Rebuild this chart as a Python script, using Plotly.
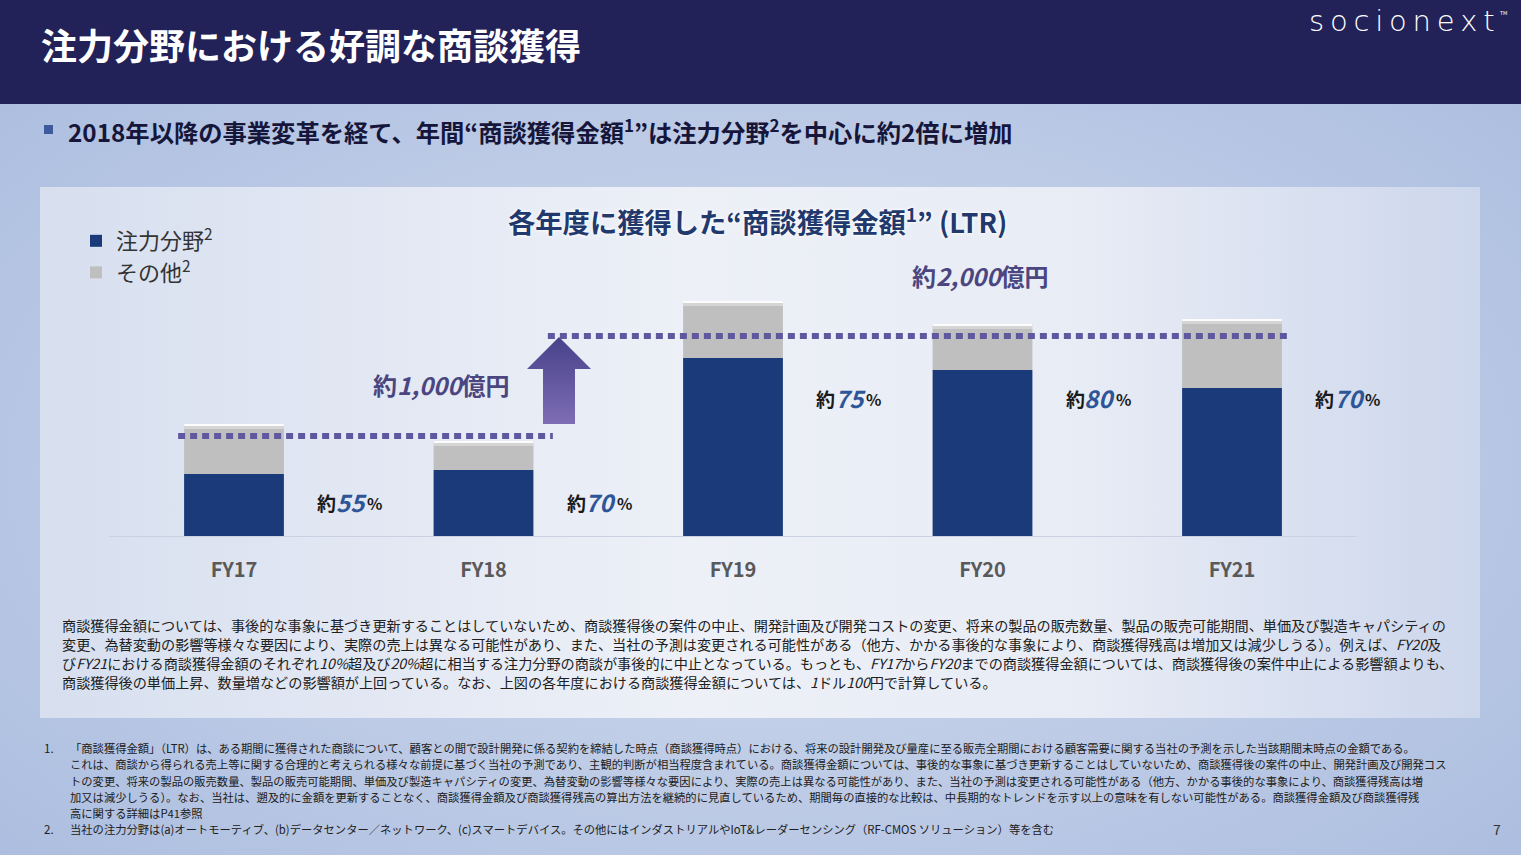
import base64
import plotly.graph_objects as go

W, H = 1521, 855

# ---------------- data ----------------
CATEGORIES = ["FY17", "FY18", "FY19", "FY20", "FY21"]
FOCUS = [620, 660, 1780, 1660, 1480]      # 注力分野 (億円)
OTHER = [500, 290, 570, 460, 690]         # その他 (億円)
SHARE_LABELS = ["55", "70", "75", "80", "70"]   # 注力分野の比率 (%)
LEVELS = [1000, 2000]                     # 目安線 (億円)
LEVEL_LABELS = ["1,000", "2,000"]

TITLE = "注力分野における好調な商談獲得"
SUBTITLE = "2018年以降の事業変革を経て、年間“商談獲得金額<sup>1</sup>”は注力分野<sup>2</sup>を中心に約2倍に増加"
CHART_TITLE = "各年度に獲得した“商談獲得金額<sup>1</sup>” (LTR)"
SERIES_NAMES = ["注力分野<sup>2</sup>", "その他<sup>2</sup>"]

BODY_LINES = [
    "商談獲得金額については、事後的な事象に基づき更新することはしていないため、商談獲得後の案件の中止、開発計画及び開発コストの変更、将来の製品の販売数量、製品の販売可能期間、単価及び製造キャパシティの",
    "変更、為替変動の影響等様々な要因により、実際の売上は異なる可能性があり、また、当社の予測は変更される可能性がある（他方、かかる事後的な事象により、商談獲得残高は増加又は減少しうる）。例えば、<i>FY20</i>及",
    "び<i>FY21</i>における商談獲得金額のそれぞれ<i>10%</i>超及び<i>20%</i>超に相当する注力分野の商談が事後的に中止となっている。もっとも、<i>FY17</i>から<i>FY20</i>までの商談獲得金額については、商談獲得後の案件中止による影響額よりも、",
    "商談獲得後の単価上昇、数量増などの影響額が上回っている。なお、上図の各年度における商談獲得金額については、<i>1</i>ドル<i>100</i>円で計算している。",
]
NOTE1_LINES = [
    "「商談獲得金額」（LTR）は、ある期間に獲得された商談について、顧客との間で設計開発に係る契約を締結した時点（商談獲得時点）における、将来の設計開発及び量産に至る販売全期間における顧客需要に関する当社の予測を示した当該期間末時点の金額である。",
    "これは、商談から得られる売上等に関する合理的と考えられる様々な前提に基づく当社の予測であり、主観的判断が相当程度含まれている。商談獲得金額については、事後的な事象に基づき更新することはしていないため、商談獲得後の案件の中止、開発計画及び開発コス",
    "トの変更、将来の製品の販売数量、製品の販売可能期間、単価及び製造キャパシティの変更、為替変動の影響等様々な要因により、実際の売上は異なる可能性があり、また、当社の予測は変更される可能性がある（他方、かかる事後的な事象により、商談獲得残高は増",
    "加又は減少しうる）。なお、当社は、遡及的に金額を更新することなく、商談獲得金額及び商談獲得残高の算出方法を継続的に見直しているため、期間毎の直接的な比較は、中長期的なトレンドを示す以上の意味を有しない可能性がある。商談獲得金額及び商談獲得残",
    "高に関する詳細はP41参照",
]
NOTE2 = "当社の注力分野は(a)オートモーティブ、(b)データセンター／ネットワーク、(c)スマートデバイス。その他にはインダストリアルやIoT&レーダーセンシング（RF-CMOS ソリューション）等を含む"
PAGE_NO = "7"

# ---------------- style ----------------
JP = "Noto Sans CJK JP, Noto Sans, sans-serif"
NAVY_BAR = "#1b3a7a"
GRAY_BAR = "#bfbfbf"
DOT_COLOR = "#5f589f"
LABEL_PURPLE = "#4b4680"
PCT_BLUE = "#2d5597"


def px(x):
    return x / W


def py(y):
    return 1 - y / H


# background (gradients) as an svg image
svg = f'''<svg xmlns="http://www.w3.org/2000/svg" width="{W}" height="{H}" viewBox="0 0 {W} {H}" preserveAspectRatio="none">
<defs>
<radialGradient id="bg" cx="0.5" cy="0.55" r="0.8">
<stop offset="0" stop-color="#d3dcee"/>
<stop offset="1" stop-color="#a5b8dd"/>
</radialGradient>
<linearGradient id="pn" x1="0" y1="0" x2="1" y2="0">
<stop offset="0" stop-color="#d7dfef"/>
<stop offset="0.45" stop-color="#edf0f7"/>
<stop offset="0.72" stop-color="#e8ecf5"/>
<stop offset="1" stop-color="#cdd7ec"/>
</linearGradient>
<linearGradient id="ar" x1="0" y1="0" x2="0" y2="1">
<stop offset="0" stop-color="#47428a"/>
<stop offset="1" stop-color="#7e6db5"/>
</linearGradient>
</defs>
<rect width="{W}" height="{H}" fill="url(#bg)"/>
<rect width="{W}" height="104" fill="#222259"/>
<rect x="40" y="187" width="1440" height="531" fill="url(#pn)"/>
<rect x="44" y="125" width="9" height="9" fill="#3c5a9c"/>
<path d="M559 337 L591 369 L575 369 L575 424 L543 424 L543 369 L527 369 Z" fill="url(#ar)"/>
</svg>'''
svg_uri = "data:image/svg+xml;base64," + base64.b64encode(svg.encode("utf-8")).decode("ascii")

TOTALS = [f + o for f, o in zip(FOCUS, OTHER)]

fig = go.Figure()
fig.add_trace(go.Bar(x=CATEGORIES, y=FOCUS, name=SERIES_NAMES[0], marker=dict(color=NAVY_BAR, line=dict(width=0)),
                     hoverinfo="skip"))
fig.add_trace(go.Bar(x=CATEGORIES, y=OTHER, base=FOCUS, name=SERIES_NAMES[1],
                     marker=dict(color=GRAY_BAR, line=dict(width=0)), hoverinfo="skip"))
# glossy highlight at bar tops
fig.add_trace(go.Bar(x=CATEGORIES, y=[30] * len(TOTALS), base=[t - 50 for t in TOTALS], showlegend=False,
                     marker=dict(color="rgba(255,255,255,0.35)", line=dict(width=0)), hoverinfo="skip"))
fig.add_trace(go.Bar(x=CATEGORIES, y=[20] * len(TOTALS), base=[t - 20 for t in TOTALS], showlegend=False,
                     marker=dict(color="rgba(255,255,255,0.95)", line=dict(width=0)), hoverinfo="skip"))

X_LEFT, X_RIGHT = 109.25, 1356.75
Y_BASE, Y_TOP = 536, 236

annotations = []


def ann(x, y, text, size, color="#222222", xanchor="left", yanchor="middle", family=JP, weight="normal", **kw):
    annotations.append(dict(x=px(x), y=py(y), xref="paper", yref="paper", text=text, showarrow=False,
                            xanchor=xanchor, yanchor=yanchor,
                            font=dict(family=family, size=size, color=color, weight=weight), **kw))


# header
ann(39, 44, TITLE, 36, color="#ffffff", weight="bold")
ann(1497, 21, "s\u2009o\u2009c\u2009i\u2009o\u2009n\u2009e\u2009x\u2009t",
    29, color="#ffffff", xanchor="right", family="DejaVu Sans", weight=200)
ann(1497, 13, "TM", 5, color="#ffffff", xanchor="left", family="DejaVu Sans")
ann(66, 131, SUBTITLE, 24.3, color="#16163a", weight="bold")

# chart title
annotations.append(dict(x=px(757), y=py(220), xref="paper", yref="paper", text=CHART_TITLE, showarrow=False,
                        xanchor="center", yanchor="middle",
                        font=dict(family=JP, size=27.3, color="#22396e", weight="bold",
                                  shadow="0px 0px 4px #ffffff, 0px 0px 2px #ffffff")))

# level labels
LEVEL_LABEL_POS = [(511, 385), (1050, 275)]
for (lx, ly), lab in zip(LEVEL_LABEL_POS, LEVEL_LABELS):
    ann(lx, ly, f"約<i>{lab}</i>億円", 24, color=LABEL_PURPLE, xanchor="right", weight="bold")

# share labels next to bars: "約" + number + "%"
SHARE_Y = [350, 350, 1390, 1390, 1390]
for i, (s, yv) in enumerate(zip(SHARE_LABELS, SHARE_Y)):
    xc = i + 0.47
    annotations.append(dict(x=xc, y=yv, xref="x", yref="y", showarrow=False, xanchor="center",
                            yanchor="middle", text=f"<i>{s}</i>",
                            font=dict(family=JP, size=24, color=PCT_BLUE, weight="bold")))
    annotations.append(dict(x=xc, y=yv, xref="x", yref="y", showarrow=False, xanchor="right",
                            yanchor="middle", text="約", xshift=-13, yshift=-1,
                            font=dict(family=JP, size=19, color="#1a1a1a", weight="bold")))
    annotations.append(dict(x=xc, y=yv, xref="x", yref="y", showarrow=False, xanchor="left",
                            yanchor="middle", text="%", xshift=14, yshift=-2,
                            font=dict(family=JP, size=16, color="#1a1a1a", weight="bold")))

# body text inside panel
for k, line in enumerate(BODY_LINES):
    ann(60, 625 + 19 * k, line, 14.15, color="#202020")

# footnotes
ann(42, 748, "1.", 11.5, color="#202020")
for k, line in enumerate(NOTE1_LINES):
    ann(68, 748 + 16.3 * k, line, 11.3, color="#202020")
ann(42, 829, "2.", 11.5, color="#202020")
ann(68, 829, NOTE2, 11.3, color="#202020")
ann(1497, 829, PAGE_NO, 14, color="#333333", xanchor="center")

# dotted level lines
LINE_SPANS = [(-0.224, 1.278), (1.258, 4.231)]
shapes = []
for (x0, x1), lv in zip(LINE_SPANS, LEVELS):
    shapes.append(dict(type="line", xref="x", yref="y", x0=x0, x1=x1, y0=lv, y1=lv,
                       line=dict(color=DOT_COLOR, width=6, dash="7px,5px"), layer="above"))

fig.update_layout(
    width=W, height=H,
    margin=dict(l=0, r=0, t=0, b=0),
    paper_bgcolor="#b8c7e4",
    plot_bgcolor="rgba(0,0,0,0)",
    barmode="overlay",
    bargap=0.6,
    showlegend=True,
    legend=dict(x=px(76), y=py(220), xanchor="left", yanchor="top", traceorder="normal",
                font=dict(family=JP, size=22, color="#333333"), bgcolor="rgba(0,0,0,0)",
                itemwidth=30, itemclick=False, itemdoubleclick=False),
    xaxis=dict(domain=[px(X_LEFT), px(X_RIGHT)], range=[-0.5, len(CATEGORIES) - 0.5],
               showline=True, linecolor="#c9d1e3", linewidth=1, ticks="", showgrid=False, zeroline=False,
               tickfont=dict(family=JP, size=20, color="#595959", weight="bold"), ticklabelstandoff=16,
               fixedrange=True),
    yaxis=dict(domain=[py(Y_BASE), py(Y_TOP)], range=[0, (Y_BASE - Y_TOP) * 10], visible=False,
               showgrid=False, zeroline=False, fixedrange=True),
    images=[dict(source=svg_uri, xref="paper", yref="paper", x=0, y=1, sizex=1, sizey=1,
                 sizing="stretch", xanchor="left", yanchor="top", layer="below")],
    annotations=annotations,
    shapes=shapes,
)

fig.write_html("out.html", config={"displayModeBar": False},
               post_script="document.body.style.margin='0';document.body.style.overflow='hidden';")
